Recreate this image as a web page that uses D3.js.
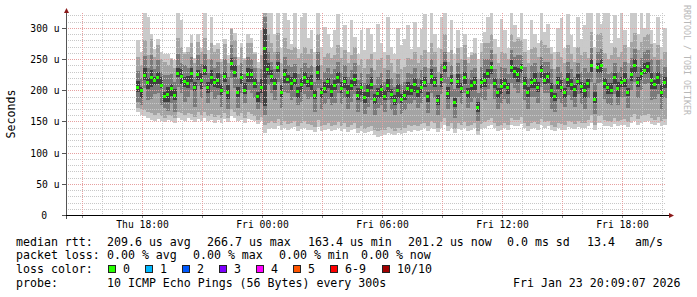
<!DOCTYPE html>
<html>
<head>
<meta charset="utf-8">
<script src="https://cdn.jsdelivr.net/npm/d3@7"></script>
<style>
html, body { margin: 0; padding: 0; background: #fff; }
svg { display: block; font-family: "DejaVu Sans Mono", monospace; }
</style>
</head>
<body>
<svg id="chart"></svg>
<script>
// rtt of the 10 sorted pings, microseconds, one sample per 10 min from Thu 17:40
const p1 = [165,160,158,155,152,150,154,151,149,152, 150,148,156,153,150,155,152,149,154,151,
    156,150,153,148,152,147,154,149,158,155, 150,153,148,154,152,150,146,150,132,138,
    140,138,142,136,140,137,139,141,135,138, 140,137,136,133,141,134,136,138,134,137,
    139,135,138,133,136,138,132,134,131,133, 134,128,125,127,129,132,130,128,132,130,
    132,135,133,136,134,137,139,134,140,138, 133,140,144,135,139,131,138,136,140,135,
    137,139,128,138,140,143,145,139,135,137, 139,137,145,143,142,146,139,135,138,140,
    137,144,140,142,136,134,139,137,136,141, 140,138,141,139,140,143,148,137,147,148,
    143,142,141,146,142,144,145,141,147,150, 145,148,149,151,146,144,147,142,145];
const p2 = [172,170,168,166,164,160,163,158,156,160, 158,155,166,164,160,163,162,157,165,160,
    166,158,162,157,160,155,164,156,170,166, 158,163,156,165,162,158,152,157,145,148,
    150,147,154,144,151,146,148,150,143,147, 150,146,145,141,152,142,144,147,142,145,
    149,143,147,141,144,148,140,143,138,141, 143,136,134,136,137,141,138,135,140,137,
    140,144,142,145,142,146,148,142,150,147, 140,149,155,143,148,138,147,144,149,142,
    145,147,135,146,149,153,156,148,143,145, 148,145,156,153,152,157,148,143,147,149,
    146,154,149,151,144,141,148,146,144,150, 149,146,150,148,148,152,160,145,158,160,
    152,151,149,156,150,153,154,149,157,162, 154,158,160,162,155,153,157,150,154];
const p3 = [181,176,203,184,186,194,195,176,172,167, 179,166,205,196,182,190,200,174,207,188,
    206,180,197,186,192,174,198,170,219,204, 172,196,180,200,196,188,170,180,160,208,
    196,184,214,172,198,196,184,190,176,182, 194,186,190,166,204,170,178,186,176,180,
    196,178,188,170,182,194,166,182,162,174, 184,160,172,176,166,184,168,160,178,162,
    168,178,178,184,172,180,190,164,196,188, 160,194,212,170,190,156,190,178,196,172,
    182,188,150,188,184,202,210,186,170,180, 186,178,212,204,196,212,184,170,190,190,
    180,206,196,196,170,166,186,180,174,192, 184,174,194,178,170,188,214,162,212,214,
    186,178,176,194,176,190,190,172,200,214, 188,200,210,212,184,186,194,170,188];
const p4 = [197,188,217,202,206,209,210,203,181,181, 191,185,221,210,205,203,214,199,216,202,
    224,196,209,205,203,193,214,186,232,222, 189,210,194,214,214,204,182,196,175,224,
    213,200,229,190,212,211,201,208,188,198, 210,206,200,186,216,187,196,203,190,200,
    212,195,204,187,200,207,185,193,180,190, 202,178,188,190,184,198,186,176,188,179,
    185,192,193,198,190,196,206,181,210,205, 176,206,230,186,208,173,203,195,210,188,
    199,201,165,204,205,220,226,203,188,194, 203,194,229,220,213,228,202,190,204,204,
    197,220,210,212,187,183,202,198,188,206, 201,190,208,196,187,204,229,180,227,228,
    203,194,194,210,190,206,205,191,215,228, 205,216,226,228,202,202,210,190,204];
const median = [205,200,223,212,220,216,221,208,190,194, 203,192,227,222,214,211,227,204,225,215,
    232,204,221,212,216,200,222,197,243,229, 197,221,200,226,225,211,190,205,267,233,
    222,211,236,197,225,218,211,216,198,209, 220,214,211,192,228,196,203,214,198,208,
    221,203,214,196,207,218,192,204,188,199, 210,186,195,201,190,207,194,183,199,186,
    192,203,200,209,198,205,213,190,222,213, 184,218,236,195,216,180,214,203,220,196,
    207,213,172,212,216,227,236,211,196,206, 211,205,236,230,225,236,211,196,213,216,
    205,232,216,222,200,190,212,204,196,218, 209,201,214,206,200,211,240,186,236,240,
    211,205,200,220,203,213,216,197,225,240, 213,227,232,238,216,209,220,197,213];
const p7 = [215,206,236,220,232,221,230,222,197,205, 210,202,236,234,222,223,235,214,232,228,
    240,214,233,218,228,210,230,208,252,240, 206,228,211,236,234,220,198,218,300,244,
    232,219,245,208,234,224,222,228,206,220, 230,222,224,200,240,204,214,220,210,216,
    230,214,222,208,216,226,204,212,198,210, 222,194,204,210,200,218,202,192,210,194,
    200,214,208,220,206,216,222,198,234,222, 193,226,246,206,224,188,226,212,230,204,
    216,222,182,220,228,234,246,220,204,218, 220,212,248,238,236,242,222,206,220,228,
    214,240,228,230,212,196,222,216,204,228, 218,208,226,214,212,218,250,198,244,250,
    220,212,212,228,214,222,228,204,236,250, 222,236,244,246,228,216,230,210,222];
const p8 = [231,220,255,236,256,234,249,230,224,224, 226,214,258,244,240,236,254,222,256,242,
    258,228,250,236,246,226,250,222,272,254, 220,244,226,254,250,236,214,234,318,262,
    246,234,262,220,254,240,238,242,226,236, 244,236,240,214,262,218,230,236,226,234,
    246,228,240,222,232,244,216,228,212,226, 236,208,222,228,214,232,220,206,226,210,
    214,228,226,236,220,232,238,212,250,238, 208,242,262,222,240,202,244,226,248,220,
    232,236,196,238,250,250,264,234,220,238, 236,226,264,254,256,256,238,220,240,244,
    230,254,246,246,234,210,238,230,220,246, 234,222,244,230,236,230,268,212,262,266,
    236,226,230,244,230,238,246,220,252,266, 238,252,262,264,250,230,248,226,238];
const p9 = [253,240,281,256,282,254,273,250,246,240, 250,236,284,270,258,262,276,244,278,262,
    284,250,276,262,266,246,274,244,298,280, 240,270,248,276,276,258,236,256,326,290,
    276,262,292,244,284,266,264,270,252,260, 270,258,266,238,290,240,254,260,252,256,
    272,252,264,244,256,270,240,250,236,250, 258,232,248,252,236,256,244,228,250,234,
    238,252,250,262,244,256,264,236,276,262, 230,266,290,246,264,226,268,250,272,244,
    256,260,218,262,276,276,290,258,244,262, 260,250,290,278,282,280,262,244,266,270,
    254,280,272,268,258,234,262,254,244,272, 258,246,270,256,262,252,294,236,290,292,
    260,250,256,270,254,262,272,244,278,292, 264,278,286,290,274,254,272,250,262];
const p10 = [280,262,330,318,290,266,282,262,258,258, 252,248,330,312,262,270,288,252,290,268,
    326,264,318,272,276,250,282,256,300,292, 254,276,252,290,284,262,246,296,330,330,
    330,290,330,268,330,312,274,330,266,318, 330,284,296,262,330,270,302,290,268,296,
    322,270,304,262,312,286,258,296,264,300, 290,262,306,276,262,318,270,258,300,272,
    282,304,266,310,270,298,322,262,326,290, 268,318,330,262,312,258,296,270,290,254,
    262,284,250,276,294,318,330,282,270,314, 296,268,330,304,286,330,282,264,312,290,
    276,326,294,306,270,262,300,316,268,322, 288,270,318,282,304,326,330,270,330,306,
    326,330,276,320,284,330,296,270,324,330, 290,330,300,330,296,276,318,270,300];

const firstSample = Date.UTC(2026, 0, 22, 17, 40);
const stepMs = 10 * 60 * 1000;
const yTicks = [0, 50, 100, 150, 200, 250, 300];

const lossLabels = ["0", "1", "2", "3", "4", "5", "6-9", "10/10"];
const lossColors = ["#26ff00", "#00b8ff", "#0059ff", "#7e00ff", "#ff00ff", "#ff5500", "#ff0000", "#a10000"];
const rttStats = ["209.6 us avg", "266.7 us max", "163.4 us min", "201.2 us now", "0.0 ms sd", "13.4", "am/s"];
const lossStats = ["0.00 % avg", "0.00 % max", "0.00 % min", "0.00 % now"];
const probeText = "10 ICMP Echo Pings (56 Bytes) every 300s";
const stampText = "Fri Jan 23 20:09:07 2026";

const w = 697, h = 297;
const svg = d3.select('#chart')
    .attr('width', w)
    .attr('height', h);

const x = d3.scaleUtc()
    .domain([new Date(Date.UTC(2026, 0, 22, 14, 9, 7)), new Date(Date.UTC(2026, 0, 23, 20, 9, 7))])
    .range([66, 666]);
const y = d3.scaleLinear()
    .domain([0, 324])
    .range([215, 13])
    .clamp(true);

const times = median.map((d, i) => new Date(firstSample + i * stepMs));
const colW = x(new Date(firstSample + stepMs)) - x(new Date(firstSample));

//smoke, outer pair of pings first
const bands = [[p1, p10, '#cacaca'], [p2, p9, '#a4a4a4'], [p3, p8, '#7a7a7a'], [p4, p7, '#404040']];
const smoke = svg.append('g').attr('shape-rendering', 'crispEdges');
bands.forEach(b => {
    smoke.append('g')
        .selectAll('rect')
        .data(times)
        .enter()
        .append('rect')
        .attr('x', d => x(d))
        .attr('width', colW + 0.3)
        .attr('y', (d, i) => y(Math.max(b[0][i], b[1][i])))
        .attr('height', (d, i) => Math.abs(y(b[0][i]) - y(b[1][i])))
        .attr('fill', b[2]);
});

//grid
const grid = svg.append('g').attr('shape-rendering', 'crispEdges');
d3.range(10, 330, 10).forEach(v => {
    const yy = Math.round(y(v)) + 0.5;
    grid.append('line')
        .attr('x1', 66).attr('x2', 666)
        .attr('y1', yy).attr('y2', yy)
        .attr('stroke', v % 50 === 0 ? '#e6a0a0' : '#c8c8c8')
        .attr('stroke-dasharray', '1,1');
});
d3.utcHour.range(x.domain()[0], x.domain()[1]).forEach(t => {
    const xx = Math.floor(x(t)) + 0.5;
    const major = t.getUTCHours() % 3 === 0;
    grid.append('line')
        .attr('x1', xx).attr('x2', xx)
        .attr('y1', 13).attr('y2', 215)
        .attr('stroke', major ? '#e6a0a0' : '#c8c8c8')
        .attr('stroke-dasharray', '1,1');
    if (major) {
        grid.append('line')
            .attr('x1', xx).attr('x2', xx)
            .attr('y1', 215).attr('y2', 218)
            .attr('stroke', '#888');
    }
});

//median dots
svg.append('g')
    .attr('shape-rendering', 'crispEdges')
    .selectAll('rect')
    .data(median)
    .enter()
    .append('rect')
    .attr('x', (d, i) => x(times[i]))
    .attr('y', d => y(d) - 1.5)
    .attr('width', 3)
    .attr('height', 3)
    .attr('fill', lossColors[0]);

//axes
const axes = svg.append('g').attr('shape-rendering', 'crispEdges');
axes.append('line')
    .attr('x1', 66.5).attr('x2', 66.5)
    .attr('y1', 11).attr('y2', 219)
    .attr('stroke', '#555');
axes.append('line')
    .attr('x1', 62).attr('x2', 671)
    .attr('y1', 215.5).attr('y2', 215.5)
    .attr('stroke', '#000');
yTicks.forEach(v => {
    axes.append('line')
        .attr('x1', 62).attr('x2', 66)
        .attr('y1', Math.round(y(v)) + 0.5).attr('y2', Math.round(y(v)) + 0.5)
        .attr('stroke', '#555');
});
svg.append('path')
    .attr('d', 'M64,13 L69,13 L66.5,8 Z')
    .attr('fill', '#8b1a1a');
svg.append('path')
    .attr('d', 'M669,213 L669,218 L674,215.5 Z')
    .attr('fill', '#8b1a1a');

//y labels
svg.append('g')
    .selectAll('text')
    .data(yTicks)
    .enter()
    .append('text')
    .attr('x', d => d === 0 ? 47 : 59.5)
    .attr('y', d => Math.round(y(d)) + 4)
    .attr('text-anchor', 'end')
    .style('font-size', '9.7px')
    .style('white-space', 'pre')
    .text(d => d === 0 ? '0' : d + ' u');

//x labels
const xFormat = d3.utcFormat('%a %H:%M');
svg.append('g')
    .selectAll('text')
    .data(x.ticks(d3.utcHour.every(6)))
    .enter()
    .append('text')
    .attr('x', d => Math.floor(x(d)) + 0.5)
    .attr('y', 227.5)
    .attr('text-anchor', 'middle')
    .style('font-size', '9.7px')
    .text(d => xFormat(d));

//axis title
svg.append('text')
    .attr('transform', 'rotate(-90)')
    .attr('x', -114)
    .attr('y', 15)
    .attr('text-anchor', 'middle')
    .style('font-size', '11.6px')
    .text('Seconds');

//watermark
svg.append('text')
    .attr('transform', 'translate(684,5) rotate(90)')
    .style('font-size', '8.3px')
    .attr('fill', '#b8b8b8')
    .text('RRDTOOL / TOBI OETIKER');

//legend
const leg = svg.append('g').style('font-size', '11.6px').style('white-space', 'pre');
function put(txt, px, py) {
    leg.append('text').attr('x', px).attr('y', py).text(txt);
}
put('median rtt:', 16, 245.5);
const rttX = [107, 207, 308, 408, 507, 587, 635];
rttStats.forEach((s, i) => put(s, rttX[i], 245.5));

put('packet loss:', 16, 259.3);
const lossX = [107, 193, 279, 361];
lossStats.forEach((s, i) => put(s, lossX[i], 259.3));

put('loss color:', 16, 273.1);
const boxX = [108, 145, 182, 219, 256, 293, 330, 382];
lossLabels.forEach((s, i) => {
    leg.append('rect')
        .attr('x', boxX[i] + 0.5)
        .attr('y', 265.5)
        .attr('width', 7)
        .attr('height', 7)
        .attr('fill', lossColors[i])
        .attr('stroke', '#222')
        .attr('shape-rendering', 'crispEdges');
    put(s, boxX[i] + 15, 273.1);
});

put('probe:', 16, 287);
put(probeText, 107, 287);
put(stampText, 513, 287);
</script>
</body>
</html>
